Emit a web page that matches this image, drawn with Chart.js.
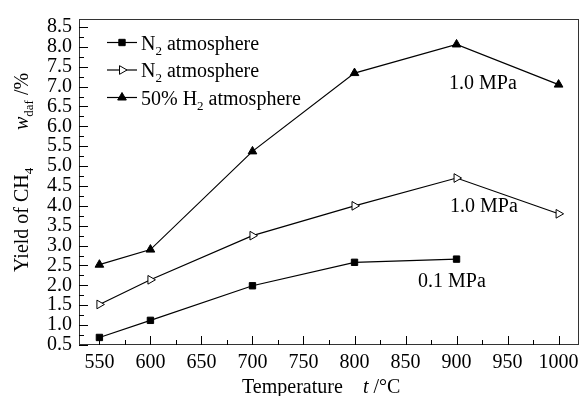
<!DOCTYPE html>
<html>
<head>
<meta charset="utf-8">
<script src="https://cdn.jsdelivr.net/npm/chart.js@4"></script>
<style>
  html, body { margin: 0; padding: 0; background: #fff; }
  #wrap { width: 585px; height: 396px; }
</style>
</head>
<body>
<div id="wrap"><canvas id="yieldChart" width="585" height="396"></canvas></div>
<script>
const temps = [550, 600, 700, 800, 900, 1000];
const n2Low = [0.69, 1.12, 1.99, 2.58, 2.66, null];     // N2, 0.1 MPa
const n2High = [1.52, 2.14, 3.25, 4.0, 4.7, 3.8];       // N2, 1.0 MPa
const h2High = [2.52, 2.9, 5.37, 7.34, 8.06, 7.05];     // 50% H2, 1.0 MPa

const xTicks = [550, 600, 650, 700, 750, 800, 850, 900, 950, 1000];
const yTicks = [0.5, 1.0, 1.5, 2.0, 2.5, 3.0, 3.5, 4.0, 4.5, 5.0, 5.5, 6.0, 6.5, 7.0, 7.5, 8.0, 8.5];

const FONT = '"Liberation Serif", "Times New Roman", serif';

// legend text, split so the subscripts can be drawn smaller
const legendText = [
    [['N'], ['2', 'sub'], [' atmosphere']],
    [['N'], ['2', 'sub'], [' atmosphere']],
    [['50% H'], ['2', 'sub'], [' atmosphere']]
];

function toPoints(values) {
    return temps.map((t, i) => ({ x: t, y: values[i] }));
}

// draws a run of text pieces one after another, returns the end x
function drawRich(ctx, parts, x, y) {
    parts.forEach(([text, kind]) => {
        let size = 20, dy = 0, style = '';
        if (kind === 'sub') { size = 13; dy = 5; }
        if (kind === 'it') { style = 'italic '; }
        ctx.font = style + size + 'px ' + FONT;
        ctx.fillText(text, x, y + dy);
        x += ctx.measureText(text).width;
    });
    return x;
}

const framePlugin = {
    id: 'frame',
    afterDatasetsDraw(chart) {
        const { ctx, chartArea: a, scales } = chart;
        ctx.save();
        ctx.strokeStyle = '#333';
        ctx.lineWidth = 1;
        ctx.strokeRect(a.left + 0.5, a.top + 0.5, a.right - a.left - 1, a.bottom - a.top - 1);

        // inward ticks, minor ones halfway between labels
        ctx.strokeStyle = '#000';
        ctx.beginPath();
        for (let v = 550; v <= 1000; v += 25) {
            const px = Math.round(scales.x.getPixelForValue(v)) + 0.5;
            const len = v % 50 === 0 ? 9 : 5;
            ctx.moveTo(px, a.bottom);
            ctx.lineTo(px, a.bottom - len);
        }
        for (let v = 0.5; v <= 8.5 + 1e-6; v += 0.25) {
            const py = Math.round(scales.y.getPixelForValue(v)) + 0.5;
            const len = Math.abs(v * 2 - Math.round(v * 2)) < 1e-6 ? 9 : 5;
            ctx.moveTo(a.left, py);
            ctx.lineTo(a.left + len, py);
        }
        ctx.stroke();
        ctx.restore();
    },
    afterDraw(chart) {
        const { ctx } = chart;
        ctx.save();
        ctx.fillStyle = '#000';
        ctx.textBaseline = 'alphabetic';
        ctx.textAlign = 'left';

        // legend: line with marker, then the label
        chart.data.datasets.forEach((ds, i) => {
            const rowY = 42.5 + i * 27.5;
            ctx.strokeStyle = '#000';
            ctx.lineWidth = 1.2;
            ctx.beginPath();
            ctx.moveTo(107, rowY);
            ctx.lineTo(137, rowY);
            ctx.stroke();
            ctx.fillStyle = ds.pointBackgroundColor;
            ctx.strokeStyle = ds.pointBorderColor;
            ctx.lineWidth = 1;
            Chart.helpers.drawPoint(ctx, {
                pointStyle: ds.pointStyle,
                radius: ds.pointRadius,
                rotation: ds.pointRotation || 0,
                borderWidth: 1
            }, 122, rowY);
            ctx.fillStyle = '#000';
            drawRich(ctx, legendText[i], 141, rowY + 7);
        });

        // pressure notes beside the curves
        ctx.font = '20px ' + FONT;
        ctx.fillText('1.0 MPa', 449, 89);
        ctx.fillText('1.0 MPa', 450, 212);
        ctx.fillText('0.1 MPa', 418, 287);

        // x axis title
        drawRich(ctx, [['Temperature']], 242, 393);
        drawRich(ctx, [['t', 'it'], [' /°C']], 363, 393);

        // y axis title, rotated
        ctx.translate(28, 0);
        ctx.rotate(-Math.PI / 2);
        drawRich(ctx, [['Yield of CH'], ['4', 'sub']], -272, 0);
        drawRich(ctx, [['w', 'it'], ['daf', 'sub'], [' /%']], -130, 0);
        ctx.restore();
    }
};

const lineStyle = {
    borderColor: '#000',
    borderWidth: 1.2,
    pointBorderColor: '#000',
    pointBorderWidth: 1,
    fill: false,
    tension: 0
};

new Chart(document.getElementById('yieldChart'), {
    type: 'line',
    data: {
        datasets: [
            Object.assign({}, lineStyle, {
                label: 'N2 atmosphere 0.1 MPa',
                data: toPoints(n2Low),
                pointStyle: 'rect',
                pointRadius: 4.5,
                pointBackgroundColor: '#000'
            }),
            Object.assign({}, lineStyle, {
                label: 'N2 atmosphere 1.0 MPa',
                data: toPoints(n2High),
                pointStyle: 'triangle',
                pointRotation: 90,
                pointRadius: 5,
                pointBackgroundColor: '#fff'
            }),
            Object.assign({}, lineStyle, {
                label: '50% H2 atmosphere 1.0 MPa',
                data: toPoints(h2High),
                pointStyle: 'triangle',
                pointRadius: 5,
                pointBackgroundColor: '#000'
            })
        ]
    },
    options: {
        responsive: false,
        devicePixelRatio: 1,
        animation: false,
        layout: { padding: { top: 13, right: 1, left: 0, bottom: 0 } },
        plugins: {
            legend: { display: false },
            tooltip: { enabled: false }
        },
        scales: {
            x: {
                type: 'linear',
                min: 530,
                max: 1020,
                afterBuildTicks: s => { s.ticks = xTicks.map(v => ({ value: v })); },
                afterFit: s => { s.height = 51; },
                grid: { display: false, drawTicks: false },
                border: { display: false },
                ticks: {
                    color: '#000',
                    padding: 6,
                    maxRotation: 0,
                    autoSkip: false,
                    callback: v => String(v),
                    font: { family: FONT, size: 20 }
                }
            },
            y: {
                min: 0.5,
                max: 8.7,
                afterBuildTicks: s => { s.ticks = yTicks.map(v => ({ value: v })); },
                afterFit: s => { s.width = 79; },
                grid: { display: false, drawTicks: false },
                border: { display: false },
                ticks: {
                    color: '#000',
                    padding: 7,
                    autoSkip: false,
                    callback: v => v.toFixed(1),
                    font: { family: FONT, size: 20 }
                }
            }
        }
    },
    plugins: [framePlugin]
});
</script>
</body>
</html>
